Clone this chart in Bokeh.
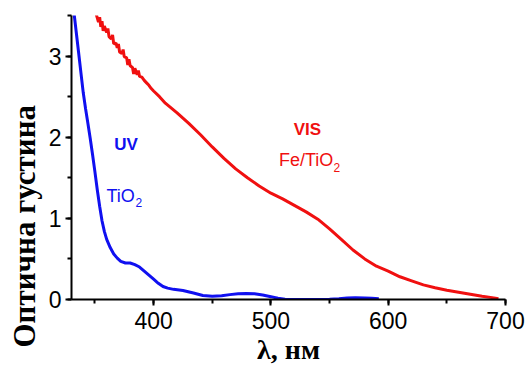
from bokeh.plotting import figure
from bokeh.models import Range1d, SingleIntervalTicker, Label, Title
from bokeh.embed import file_html
from bokeh.resources import INLINE

# Fe/TiO2 (VIS) absorption spectrum
red_wl = [351, 353, 354, 355, 356, 357, 358, 360, 361, 362, 364, 365, 366, 368, 369, 370,
          371, 373, 374, 375, 377, 378, 379, 380, 382, 383, 384, 386, 387, 388, 390, 392,
          394, 396, 398, 400, 405, 410, 420, 430, 440, 450, 460, 470, 480, 490, 500, 510,
          520, 530, 540, 550, 560, 570, 580, 590, 600, 610, 620, 630, 640, 650, 660, 670,
          680, 690, 694]
red_od = [3.52, 3.42, 3.48, 3.36, 3.43, 3.31, 3.37, 3.29, 3.34, 3.24, 3.21, 3.26, 3.15, 3.16, 3.10, 3.15,
          3.05, 3.03, 3.08, 2.99, 2.98, 2.89, 2.96, 2.88, 2.86, 2.78, 2.85, 2.77, 2.82, 2.75, 2.74, 2.70,
          2.67, 2.64, 2.60, 2.57, 2.50, 2.42, 2.30, 2.17, 2.03, 1.88, 1.74, 1.61, 1.50, 1.40, 1.31, 1.24,
          1.16, 1.08, 0.99, 0.87, 0.74, 0.61, 0.50, 0.41, 0.35, 0.28, 0.23, 0.18, 0.145, 0.115, 0.09, 0.065,
          0.04, 0.02, 0.01]

# TiO2 (UV) absorption spectrum
blue_wl = [332, 334, 336, 338, 340, 342, 344, 346, 348, 350, 352, 354, 356, 358, 360, 363,
           366, 369, 372, 376, 380, 384, 388, 392, 396, 400, 404, 408, 412, 417, 425, 434,
           442, 450, 458, 465, 472, 479, 486, 493, 500, 506, 512, 520, 530, 540, 550, 558,
           565, 572, 580, 586, 592]
blue_od = [3.55, 3.30, 3.05, 2.80, 2.55, 2.35, 2.17, 1.98, 1.78, 1.57, 1.35, 1.15, 0.97, 0.84, 0.74, 0.64,
           0.56, 0.51, 0.47, 0.45, 0.45, 0.43, 0.40, 0.35, 0.30, 0.25, 0.20, 0.16, 0.14, 0.125, 0.11, 0.08,
           0.05, 0.04, 0.045, 0.06, 0.07, 0.075, 0.07, 0.055, 0.035, 0.015, 0.003, 0.0, 0.0, 0.0, 0.003, 0.01,
           0.018, 0.022, 0.02, 0.015, 0.01]

x_label = "λ, нм"
y_label = "Оптична густина"

p = figure(width=526, height=369, output_backend="svg", toolbar_location=None,
           x_range=Range1d(330, 700), y_range=Range1d(0, 3.5),
           min_border_left=67, min_border_right=21, min_border_top=15, min_border_bottom=70)
p.outline_line_color = None
p.grid.visible = False
p.background_fill_color = "white"
p.border_fill_color = "white"

p.line(blue_wl, blue_od, line_color="#1010F0", line_width=3)
p.line(red_wl, red_od, line_color="#F01010", line_width=3)

p.xaxis.ticker = SingleIntervalTicker(interval=100, num_minor_ticks=2)
p.yaxis.ticker = SingleIntervalTicker(interval=1, num_minor_ticks=2)

for ax in (p.xaxis[0], p.yaxis[0]):
    ax.axis_line_color = "black"
    ax.axis_line_width = 2
    ax.major_tick_line_color = "black"
    ax.major_tick_line_width = 2
    ax.minor_tick_line_color = "black"
    ax.minor_tick_line_width = 2
    ax.major_tick_in = 0
    ax.major_tick_out = 6
    ax.minor_tick_in = 0
    ax.minor_tick_out = 4
    ax.major_label_text_font = "Liberation Sans"
    ax.major_label_text_font_size = "23px"
    ax.major_label_text_color = "black"
    ax.axis_label_text_font = "Liberation Serif"
    ax.axis_label_text_font_style = "bold"
    ax.axis_label_text_color = "black"

p.xaxis.axis_label = x_label
p.xaxis.axis_label_text_font_size = "28px"
p.xaxis.major_label_standoff = 6
p.xaxis.axis_label_standoff = 2
p.yaxis.major_label_standoff = 4

# y-axis title as a side title, starting below the frame bottom as in the original
p.add_layout(Title(text=y_label, align="left", offset=-48, standoff=8,
                   text_font="Liberation Serif", text_font_style="bold",
                   text_font_size="31px", text_color="black"), "left")

def lab(x, y, t, color, size, bold=False):
    p.add_layout(Label(x=x, y=y, text=t, text_color=color, text_font="Liberation Sans",
                       text_font_size=size, text_font_style="bold" if bold else "normal",
                       text_align="left", text_baseline="alphabetic"))

lab(366.5, 1.91, "UV", "#1010F0", "17px", True)
lab(359.8, 1.28, "TiO", "#1010F0", "18px")
lab(384.6, 1.19, "2", "#1010F0", "12px")
lab(519.5, 2.095, "VIS", "#F01010", "17px", True)
lab(506.8, 1.72, "Fe/TiO", "#F01010", "18px")
lab(553.3, 1.63, "2", "#F01010", "12px")

open("out.html", "w").write(file_html(p, INLINE))
